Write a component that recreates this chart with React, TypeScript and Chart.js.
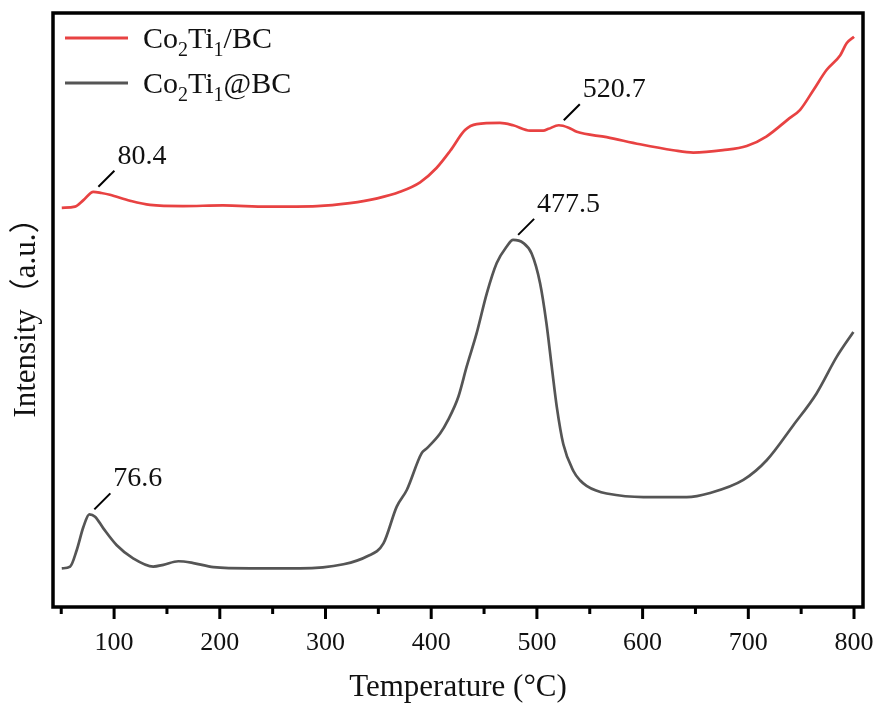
import React, { useEffect, useRef } from 'react';
import { Chart, registerables } from 'chart.js';

Chart.register(...registerables);

// ---- data ----
const seriesNames = ['Co2Ti1/BC', 'Co2Ti1@BC'];

const temperatureBC = [50.5, 63, 71, 80.4, 88, 96, 115, 134, 165, 203, 245, 292, 323, 349, 370.5, 389.5, 405, 418, 432, 443, 465, 477.5, 493.5, 506, 511, 520.7, 530, 537.7, 566, 597.6, 629, 648, 676, 698.5, 717, 739, 749, 761.5, 774, 787, 793, 800];
const intensityBC = [67.2, 67.4, 68.5, 69.9, 69.7, 69.4, 68.4, 67.7, 67.5, 67.6, 67.4, 67.5, 68.0, 68.8, 69.9, 71.5, 73.9, 76.8, 80.3, 81.3, 81.5, 81.1, 80.2, 80.2, 80.5, 81.1, 80.7, 80.0, 79.1, 77.9, 76.9, 76.5, 76.9, 77.6, 79.2, 82.3, 83.7, 87.0, 90.4, 92.9, 94.9, 96.0];

const temperatureAtBC = [50.5, 58.4, 64.7, 71, 76.6, 82, 90, 102.5, 118, 137, 146.6, 160.8, 175, 194, 228.7, 276, 317, 339, 354.8, 367.4, 376.9, 391, 395.8, 408.4, 416, 425.7, 433.6, 443, 452.6, 462, 471.5, 477.5, 487, 495, 503, 509, 514, 518.8, 525, 534.5, 541, 547, 556, 566, 600.7, 641.7, 663.8, 695.3, 717.4, 742.6, 764.7, 783.6, 799.4];
const intensityAtBC = [6.5, 6.8, 9.6, 13.5, 15.6, 15.2, 13.2, 10.4, 8.2, 6.8, 7.1, 7.7, 7.4, 6.7, 6.5, 6.5, 7.2, 8.5, 10.7, 16.9, 19.7, 25.9, 26.7, 29.2, 31.5, 35.4, 40.5, 46.1, 52.8, 57.9, 60.7, 61.8, 61.3, 59.5, 54.5, 47.8, 40.5, 33.7, 27.4, 22.9, 21.3, 20.4, 19.6, 19.1, 18.5, 18.5, 19.2, 21.4, 24.7, 30.6, 36.0, 42.1, 46.3];

const majorTicks = [100, 200, 300, 400, 500, 600, 700, 800];
const minorTicks = [50, 150, 250, 350, 450, 550, 650, 750];

const peakSeries = [0, 0, 1, 1];
const peakTemps = [80.4, 520.7, 76.6, 477.5];
const peakTexts = ['80.4', '520.7', '76.6', '477.5'];

const xTitle = 'Temperature (°C)';
const yTitle = 'Intensity（a.u.）';

const SERIF = '"Liberation Serif", "Times New Roman", "Noto Sans CJK SC", serif';
const RED = 'rgb(232, 66, 66)';
const GRAY = 'rgb(85, 85, 85)';

function drawRich(ctx: CanvasRenderingContext2D, text: string, x: number, y: number, size: number) {
  const parts = text.split(/(\d+)/);
  let cx = x;
  parts.forEach((p, i) => {
    if (!p) return;
    const sub = i % 2 === 1;
    const fs = sub ? Math.round(size * 0.66) : size;
    ctx.font = `${fs}px ${SERIF}`;
    ctx.fillText(p, cx, sub ? y + size * 0.28 : y);
    cx += ctx.measureText(p).width;
  });
}

const decorPlugin = {
  id: 'decor',
  afterDraw(chart: any) {
    const { ctx, chartArea } = chart;
    const xs = chart.scales.x;
    ctx.save();
    // frame
    ctx.strokeStyle = '#000';
    ctx.lineWidth = 3.5;
    ctx.strokeRect(chartArea.left, chartArea.top, chartArea.right - chartArea.left, chartArea.bottom - chartArea.top);
    // ticks
    ctx.lineWidth = 3;
    ctx.beginPath();
    majorTicks.forEach((v) => {
      const px = xs.getPixelForValue(v);
      ctx.moveTo(px, chartArea.bottom);
      ctx.lineTo(px, chartArea.bottom + 12);
    });
    minorTicks.forEach((v) => {
      const px = xs.getPixelForValue(v);
      ctx.moveTo(px, chartArea.bottom);
      ctx.lineTo(px, chartArea.bottom + 7);
    });
    ctx.stroke();

    // legend
    const colors = [RED, GRAY];
    seriesNames.forEach((name, i) => {
      const y = chartArea.top + 25 + i * 45;
      ctx.strokeStyle = colors[i];
      ctx.lineWidth = 3;
      ctx.beginPath();
      ctx.moveTo(chartArea.left + 12, y);
      ctx.lineTo(chartArea.left + 75, y);
      ctx.stroke();
      ctx.fillStyle = '#111';
      ctx.textBaseline = 'alphabetic';
      ctx.textAlign = 'left';
      drawRich(ctx, name, chartArea.left + 90, y + 10, 30);
    });

    // peak annotations
    peakTemps.forEach((t, k) => {
      const s = peakSeries[k];
      const xsArr = s === 0 ? temperatureBC : temperatureAtBC;
      const idx = xsArr.indexOf(t);
      const pt = chart.getDatasetMeta(s).data[idx];
      if (!pt) return;
      const x0 = pt.x + 5, y0 = pt.y - 5;
      const x1 = pt.x + 21, y1 = pt.y - 21;
      ctx.strokeStyle = '#000';
      ctx.lineWidth = 2;
      ctx.beginPath();
      ctx.moveTo(x0, y0);
      ctx.lineTo(x1, y1);
      ctx.stroke();
      ctx.fillStyle = '#111';
      ctx.font = `28px ${SERIF}`;
      ctx.textAlign = 'left';
      ctx.textBaseline = 'alphabetic';
      ctx.fillText(peakTexts[k], x1 + 3, y1 - 7);
    });
    ctx.restore();
  },
};

export default function App() {
  const ref = useRef<HTMLCanvasElement>(null);
  useEffect(() => {
    document.body.style.margin = '0';
    const toPts = (xs: number[], ys: number[]) => xs.map((x, i) => ({ x, y: ys[i] }));
    const chart = new Chart(ref.current!, {
      type: 'line',
      data: {
        datasets: [
          {
            label: seriesNames[0],
            data: toPts(temperatureBC, intensityBC),
            borderColor: RED,
            borderWidth: 2.7,
            pointRadius: 0,
            cubicInterpolationMode: 'monotone',
          },
          {
            label: seriesNames[1],
            data: toPts(temperatureAtBC, intensityAtBC),
            borderColor: GRAY,
            borderWidth: 2.7,
            pointRadius: 0,
            cubicInterpolationMode: 'monotone',
          },
        ],
      },
      options: {
        animation: false,
        responsive: true,
        maintainAspectRatio: false,
        layout: { padding: { top: 13, right: 16, left: 0, bottom: 0 } },
        plugins: { legend: { display: false }, tooltip: { enabled: false } },
        scales: {
          x: {
            type: 'linear',
            min: 42.2,
            max: 808.5,
            grid: {
              display: true,
              drawOnChartArea: false,
              drawTicks: true,
              tickLength: 21,
              color: 'rgba(0,0,0,0)',
            },
            border: { display: false },
            afterBuildTicks: (scale: any) => {
              scale.ticks = majorTicks.map((v) => ({ value: v }));
            },
            afterFit: (scale: any) => {
              scale.height = 99;
            },
            ticks: {
              color: '#111',
              padding: 0,
              maxRotation: 0,
              autoSkip: false,
              font: { family: SERIF, size: 26 },
              callback: (v: any) => String(v),
            },
            title: {
              display: true,
              text: xTitle,
              color: '#111',
              font: { family: SERIF, size: 31 },
              padding: { top: 0, bottom: 0 },
            },
          },
          y: {
            type: 'linear',
            min: 0,
            max: 100,
            grid: { display: false },
            border: { display: false },
            ticks: { display: false },
            afterFit: (scale: any) => {
              scale.width = 53;
            },
            title: {
              display: true,
              text: yTitle,
              color: '#111',
              font: { family: SERIF, size: 31 },
              padding: { top: 8, bottom: 0 },
            },
          },
        },
      },
      plugins: [decorPlugin],
    });
    return () => chart.destroy();
  }, []);
  return (
    <div style={{ width: 879, height: 706, position: 'relative' }}>
      <canvas ref={ref} />
    </div>
  );
}
